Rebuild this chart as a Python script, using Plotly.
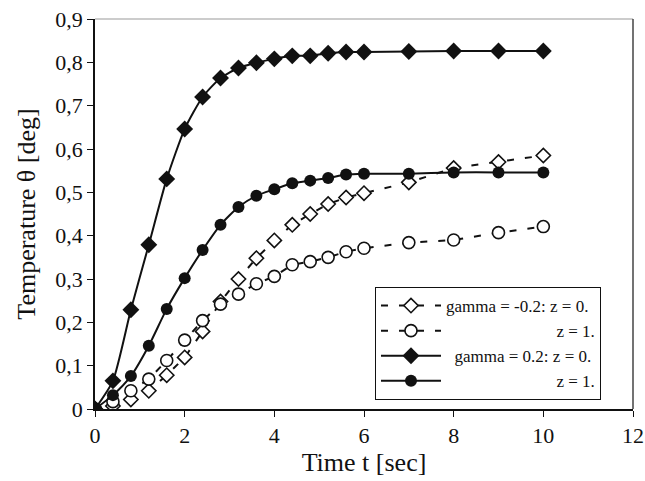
import plotly.graph_objects as go

t = [0, 0.4, 0.8, 1.2, 1.6, 2.0, 2.4, 2.8, 3.2, 3.6, 4.0, 4.4, 4.8, 5.2, 5.6, 6.0, 7, 8, 9, 10]
neg_z0 = [0, 0.007, 0.022, 0.042, 0.078, 0.119, 0.179, 0.248, 0.300, 0.348, 0.389, 0.425,
          0.450, 0.473, 0.488, 0.498, 0.523, 0.556, 0.570, 0.585]
neg_z1 = [0, 0.017, 0.042, 0.069, 0.112, 0.159, 0.204, 0.242, 0.265, 0.289, 0.306, 0.333,
          0.340, 0.350, 0.363, 0.371, 0.384, 0.390, 0.407, 0.421]
pos_z0 = [0, 0.065, 0.229, 0.379, 0.531, 0.646, 0.720, 0.764, 0.787, 0.799, 0.808, 0.815,
          0.815, 0.821, 0.824, 0.824, 0.825, 0.826, 0.826, 0.826]
pos_z1 = [0, 0.032, 0.076, 0.146, 0.231, 0.302, 0.367, 0.425, 0.466, 0.492, 0.507, 0.521,
          0.527, 0.533, 0.541, 0.543, 0.543, 0.546, 0.546, 0.546]

names = ["gamma = -0.2: z = 0.", "z = 1.", "gamma = 0.2: z = 0.", "z = 1."]
x_ticks = [0, 2, 4, 6, 8, 10, 12]
y_ticks = [0, 0.1, 0.2, 0.3, 0.4, 0.5, 0.6, 0.7, 0.8, 0.9]
y_tick_text = ["0", "0,1", "0,2", "0,3", "0,4", "0,5", "0,6", "0,7", "0,8", "0,9"]

FONT = "Liberation Serif, Times New Roman, serif"
BLACK = "#111111"
NB = "\u00a0"

fig = go.Figure()
fig.add_trace(go.Scatter(
    x=t, y=neg_z0, name=names[0], mode="lines+markers",
    line=dict(color=BLACK, width=2, dash="7px,11px"),
    marker=dict(symbol="diamond", size=11, color="white", line=dict(color=BLACK, width=1.6))))
fig.add_trace(go.Scatter(
    x=t, y=neg_z1, name=NB * 26 + names[1], mode="lines+markers",
    line=dict(color=BLACK, width=2, dash="7px,11px"),
    marker=dict(symbol="circle", size=12, color="white", line=dict(color=BLACK, width=1.6))))
fig.add_trace(go.Scatter(
    x=t, y=pos_z0, name=NB * 2 + names[2], mode="lines+markers",
    line=dict(color=BLACK, width=2, shape="spline", smoothing=0.6),
    marker=dict(symbol="diamond", size=13, color=BLACK)))
fig.add_trace(go.Scatter(
    x=t, y=pos_z1, name=NB * 26 + names[3], mode="lines+markers",
    line=dict(color=BLACK, width=2, shape="spline", smoothing=0.6),
    marker=dict(symbol="circle", size=12, color=BLACK)))

fig.update_layout(
    width=645, height=481,
    margin=dict(l=95, r=12, t=19, b=72, autoexpand=False),
    paper_bgcolor="white", plot_bgcolor="white",
    font=dict(family=FONT, size=22, color=BLACK),
    showlegend=True,
    legend=dict(
        x=0.9405, y=0.3128, xanchor="right", yanchor="top",
        bgcolor="white", bordercolor=BLACK, borderwidth=1,
        font=dict(family=FONT, size=17, color=BLACK),
        itemwidth=60, tracegroupgap=0,
    ),
    xaxis=dict(
        range=[0, 12], tickvals=x_ticks, ticktext=[str(v) for v in x_ticks],
        showgrid=False, zeroline=False, showline=True, linecolor=BLACK, linewidth=1.5,
        ticks="outside", ticklen=6, tickwidth=1.2, tickcolor=BLACK,
        tickfont=dict(family=FONT, size=22, color=BLACK),
        title=dict(text="Time t [sec]", font=dict(family=FONT, size=26, color=BLACK), standoff=4),
    ),
    yaxis=dict(
        range=[0, 0.9], tickvals=y_ticks, ticktext=y_tick_text,
        showgrid=False, zeroline=False, showline=True, linecolor=BLACK, linewidth=1.5,
        ticks="outside", ticklen=6, tickwidth=1.2, tickcolor=BLACK,
        tickfont=dict(family=FONT, size=22, color=BLACK),
        title=dict(text="Temperature θ [deg]", font=dict(family=FONT, size=26, color=BLACK), standoff=12),
    ),
    shapes=[
        dict(type="line", xref="paper", yref="paper", x0=0, x1=1, y0=1, y1=1,
             line=dict(color="#999999", width=1.2)),
        dict(type="line", xref="paper", yref="paper", x0=1, x1=1, y0=0, y1=1,
             line=dict(color="#444444", width=1.5)),
    ],
)

fig.write_html("out.html")
